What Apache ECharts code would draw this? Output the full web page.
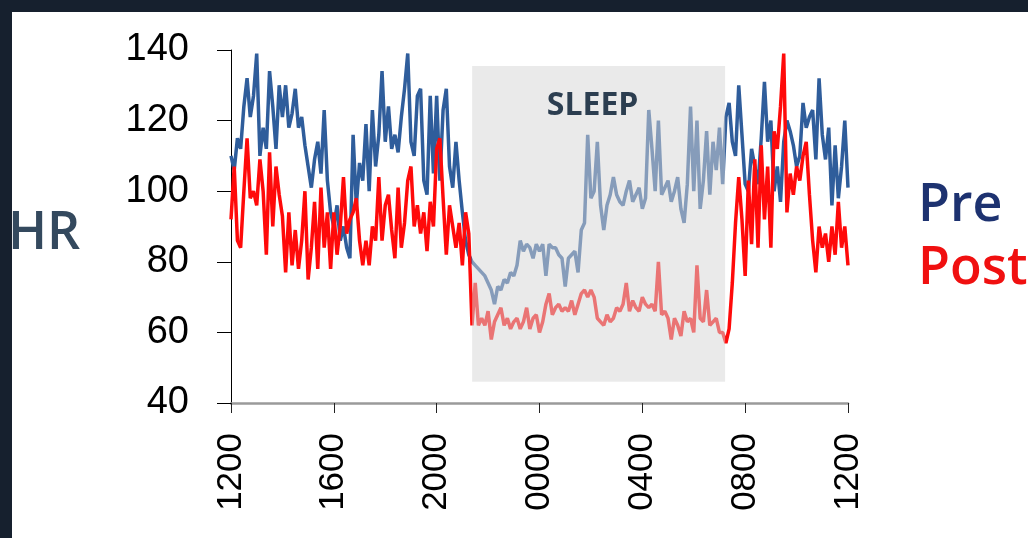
<!DOCTYPE html>
<html>
<head>
<meta charset="utf-8">
<script src="https://cdn.jsdelivr.net/npm/echarts@6/dist/echarts.min.js"></script>
<style>
	html, body { margin: 0; padding: 0; background: #16202e; }
	#chart { position: absolute; left: 12px; top: 12px; width: 1016px; height: 526px; background: #fff; overflow: hidden; }
</style>
</head>
<body>
<div id="chart"></div>
<script>
// x axis: hours from 12:00 noon, tick every 4 hours
var tickLabels = ['1200', '1600', '2000', '0000', '0400', '0800', '1200'];
var stepHours = 0.125;

// heart rate before the intervention (one value per 7.5 min)
var preHR = [
	110, 106, 115, 112, 124, 132, 121, 127, 139, 110,
	118, 112, 134, 124, 112, 130, 121, 130, 118, 122,
	129, 118, 121, 113, 107, 101, 109, 114, 105, 123,
	103, 94, 90, 96, 86, 90, 84, 81, 116, 96,
	108, 103, 119, 100, 123, 107, 116, 134, 114, 124,
	112, 116, 111, 121, 129, 139, 114, 110, 127, 129,
	103, 99, 127, 105, 127, 103, 123, 129, 107, 101,
	114, 103, 94, 86, 82, 80, 79, 78, 77, 76,
	74, 72, 68, 73, 72, 75, 74, 77, 76, 79,
	86, 83, 85, 84, 81, 85, 83, 85, 76, 85,
	84, 84, 82, 81, 73, 81, 82, 83, 77, 89,
	91, 116, 98, 100, 114, 96, 89, 96, 99, 104,
	99, 97, 96, 100, 103, 97, 99, 101, 95, 98,
	123, 112, 100, 120, 99, 101, 103, 97, 100, 104,
	95, 91, 102, 124, 100, 120, 95, 103, 117, 99,
	114, 106, 118, 102, 121, 125, 114, 110, 130, 116,
	102, 100, 112, 107, 102, 115, 131, 114, 120, 100,
	107, 97, 114, 120, 117, 113, 107, 110, 125, 118,
	121, 123, 109, 132, 116, 109, 118, 96, 113, 98,
	107, 120, 101
];

// heart rate after the intervention
var postHR = [
	92, 107, 86, 84, 100, 115, 98, 100, 96, 109,
	100, 82, 111, 90, 107, 99, 93, 77, 94, 79,
	89, 78, 86, 100, 75, 84, 97, 78, 101, 84,
	94, 78, 94, 82, 90, 104, 88, 92, 94, 98,
	86, 79, 86, 79, 90, 86, 104, 86, 96, 99,
	89, 81, 101, 84, 91, 103, 107, 90, 96, 88,
	94, 83, 97, 90, 112, 115, 98, 82, 96, 90,
	84, 91, 79, 94, 88, 62, 74, 62, 64, 62,
	66, 58, 63, 65, 67, 62, 64, 61, 63, 64,
	61, 63, 67, 61, 64, 65, 60, 63, 68, 71,
	65, 67, 68, 66, 67, 66, 69, 65, 68, 71,
	72, 70, 72, 70, 64, 63, 62, 65, 63, 64,
	67, 66, 68, 74, 66, 69, 67, 66, 70, 68,
	67, 68, 66, 80, 65, 66, 64, 58, 64, 62,
	59, 66, 63, 64, 60, 79, 64, 63, 72, 62,
	63, 64, 60, 60, 57, 61, 74, 91, 104, 92,
	76, 103, 85, 109, 84, 113, 92, 107, 84, 117,
	112, 124, 139, 94, 105, 99, 107, 103, 110, 114,
	99, 86, 77, 90, 84, 88, 80, 90, 82, 97,
	84, 90, 79
];

// sleep window (hours since noon) and its shaded band (bpm)
var sleepSpan = [9.38, 19.22];
var sleepBand = [46, 135.5];

function toPoints(arr) {
	return arr.map(function(v, i) {
		return [i * stepHours, v];
	});
}

var chart = echarts.init(document.getElementById('chart'));
chart.setOption({
	animation: false,
	grid: {
		left: 219,
		right: 180,
		top: 38,
		bottom: 135
	},
	xAxis: {
		type: 'value',
		min: 0,
		max: 24,
		interval: 4,
		axisLine: {
			lineStyle: { color: '#9a9a9a', width: 2.5 }
		},
		axisTick: {
			length: 10,
			lineStyle: { color: '#222', width: 1 }
		},
		splitLine: { show: false },
		axisLabel: {
			rotate: 90,
			margin: 30,
			fontSize: 35,
			fontFamily: 'Liberation Sans',
			color: '#000',
			formatter: function(v) {
				return tickLabels[Math.round(v / 4)];
			}
		}
	},
	yAxis: {
		type: 'value',
		min: 40,
		max: 140,
		interval: 20,
		axisLine: {
			show: true,
			lineStyle: { color: '#000', width: 1 }
		},
		axisTick: {
			show: true,
			length: 14,
			lineStyle: { color: '#000', width: 1 }
		},
		splitLine: { show: false },
		axisLabel: {
			margin: 42,
			fontSize: 38,
			fontFamily: 'Liberation Sans',
			color: '#000'
		}
	},
	series: [{
		name: 'Pre',
		type: 'line',
		data: toPoints(preHR),
		showSymbol: false,
		z: 2,
		lineStyle: { color: '#2f5d9b', width: 3.5, join: 'bevel' },
		itemStyle: { color: '#2f5d9b' }
	}, {
		name: 'Post',
		type: 'line',
		data: toPoints(postHR),
		showSymbol: false,
		z: 3,
		lineStyle: { color: '#ff0a0a', width: 3.5, join: 'bevel' },
		itemStyle: { color: '#ff0a0a' }
	}, {
		name: 'sleep',
		type: 'line',
		data: [],
		z: 10,
		markArea: {
			silent: true,
			z: 10,
			itemStyle: { color: 'rgba(214,214,214,0.52)' },
			label: {
				show: true,
				position: 'insideTop',
				distance: 24,
				formatter: 'SLEEP',
				fontSize: 32,
				fontWeight: 'bold',
				fontFamily: 'Open Sans',
				color: '#2c3e50',
				offset: [-6, 0]
			},
			data: [[{
				coord: [sleepSpan[0], sleepBand[1]]
			}, {
				coord: [sleepSpan[1], sleepBand[0]]
			}]]
		}
	}],
	graphic: [{
		type: 'text',
		left: -4,
		top: 196,
		style: {
			text: 'HR',
			fontSize: 52,
			fontWeight: 600,
			fontFamily: 'Open Sans',
			fill: '#34495e'
		}
	}, {
		type: 'text',
		left: 906,
		top: 168,
		style: {
			text: 'Pre',
			fontSize: 52,
			fontWeight: 600,
			fontFamily: 'Open Sans',
			fill: '#1d3270'
		}
	}, {
		type: 'text',
		left: 906,
		top: 231,
		style: {
			text: 'Post',
			fontSize: 52,
			fontWeight: 600,
			fontFamily: 'Open Sans',
			fill: '#f01010'
		}
	}]
});
</script>
</body>
</html>
